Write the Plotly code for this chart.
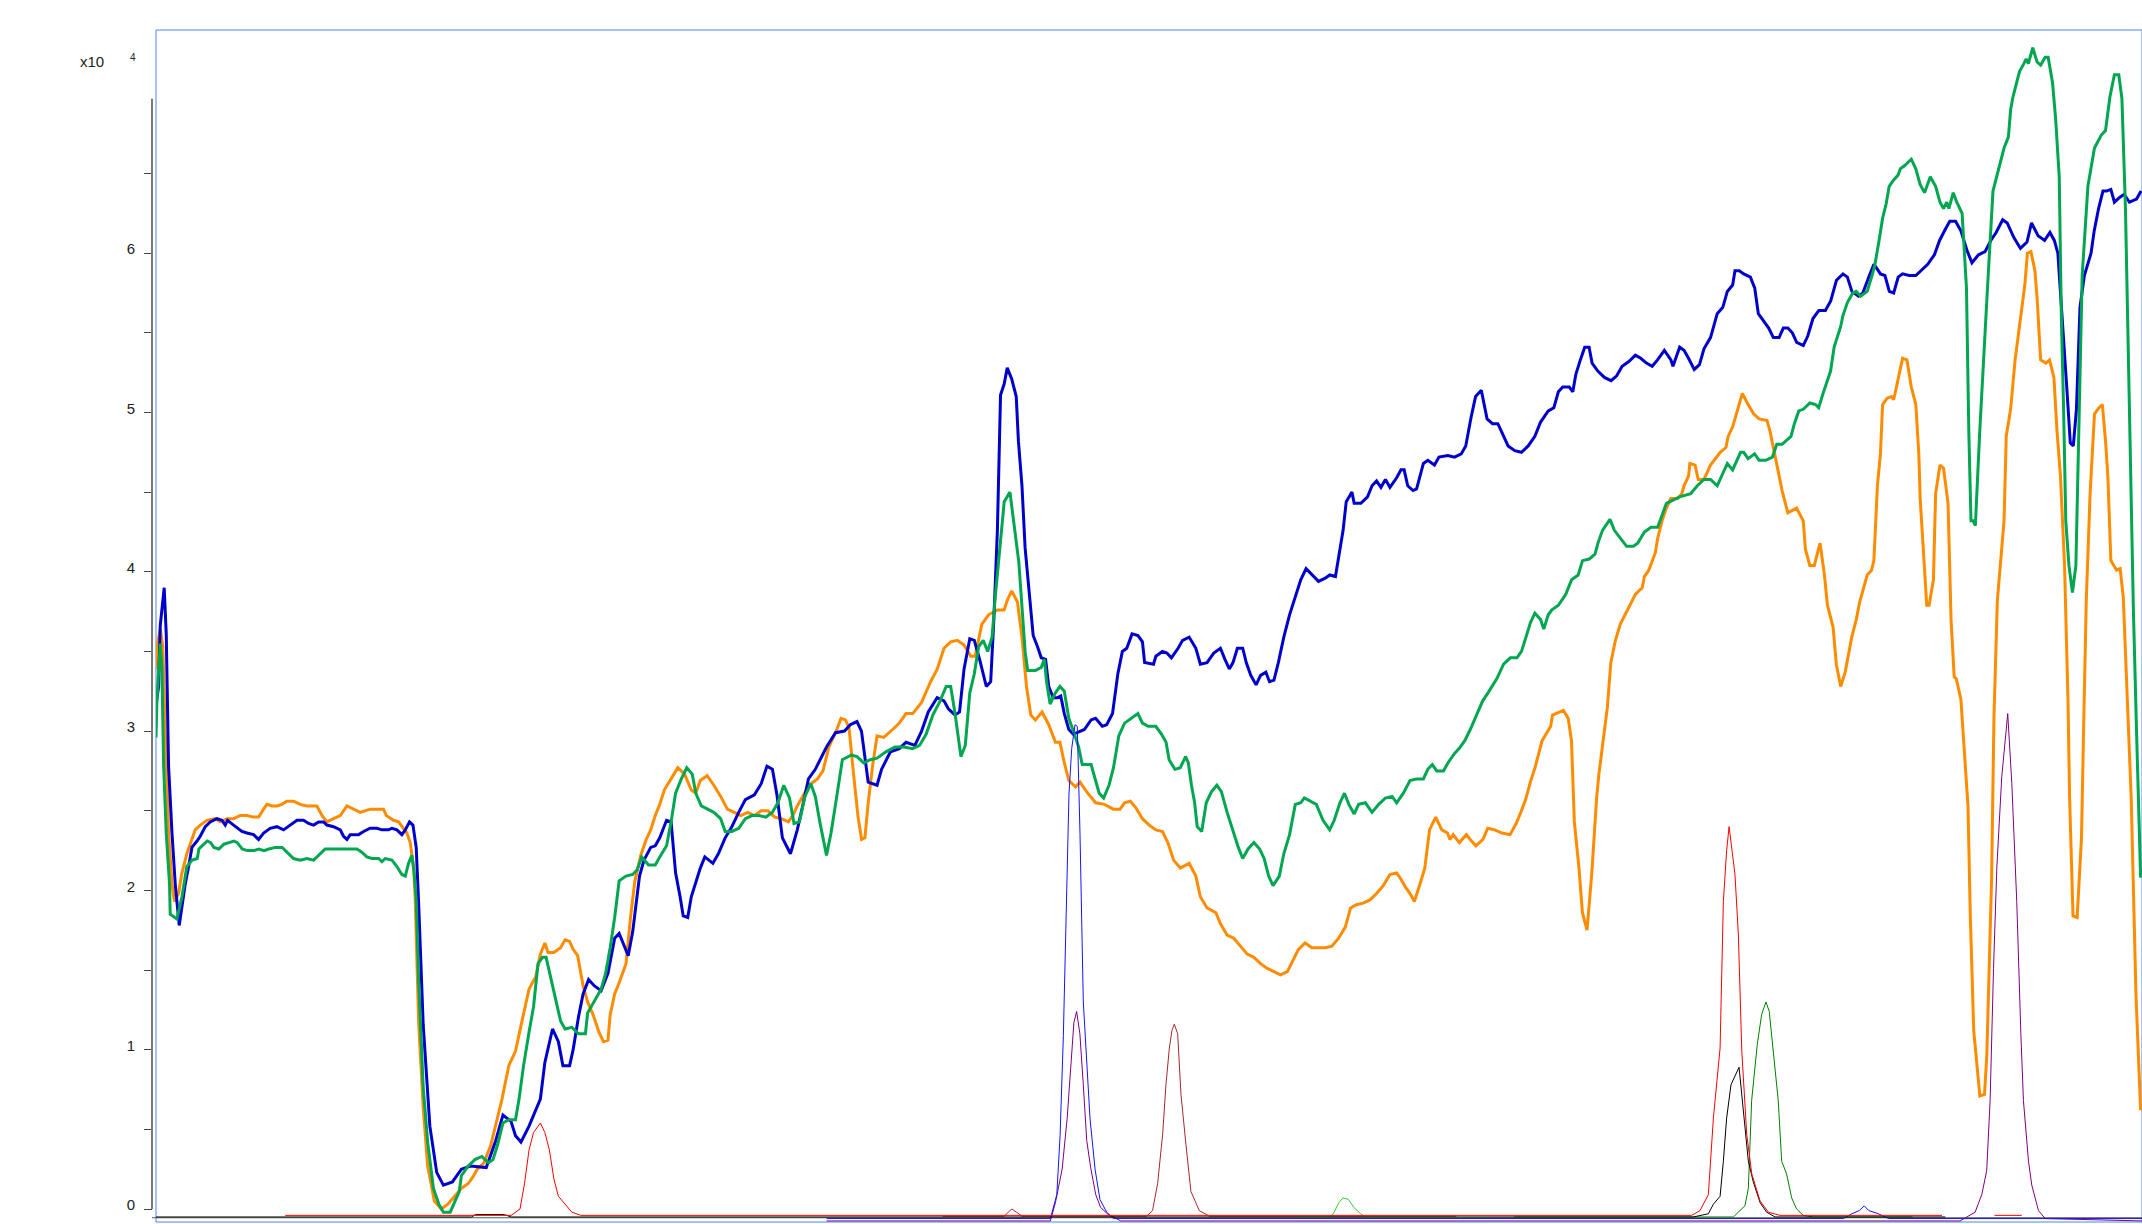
import plotly.graph_objects as go

# ---- data: (retention time [min], intensity [x10^4 counts]) ----
tic_blue = [(0,3.16),(0.038,3.28),(0.062,3.66),(0.12,3.90),(0.15,3.61),(0.184,2.78),(0.234,2.36),(0.282,2.04),(0.34,1.78),(0.428,2.04),(0.478,2.15),(0.526,2.27),(0.6,2.31),(0.648,2.34),(0.722,2.40),(0.794,2.43),(0.892,2.45),(0.966,2.44),(1.014,2.41),(1.048,2.44),(1.136,2.41),(1.258,2.37),(1.332,2.36),(1.428,2.35),(1.502,2.32),(1.576,2.36),(1.672,2.39),(1.77,2.40),(1.868,2.38),(1.94,2.40),(2.064,2.44),(2.16,2.44),(2.234,2.42),(2.308,2.41),(2.38,2.43),(2.454,2.43),(2.502,2.41),(2.6,2.40),(2.698,2.38),(2.746,2.34),(2.796,2.32),(2.844,2.35),(2.966,2.35),(3.04,2.37),(3.136,2.39),(3.234,2.39),(3.308,2.38),(3.406,2.38),(3.454,2.39),(3.528,2.38),(3.6,2.35),(3.65,2.38),(3.712,2.43),(3.762,2.41),(3.81,2.27),(3.844,1.94),(3.912,1.16),(4.01,0.52),(4.11,0.23),(4.208,0.15),(4.34,0.17),(4.472,0.25),(4.604,0.27),(4.836,0.26),(4.968,0.42),(5.08,0.59),(5.198,0.55),(5.264,0.46),(5.344,0.42),(5.462,0.52),(5.628,0.69),(5.694,0.92),(5.806,1.13),(5.892,1.05),(5.958,0.90),(6.056,0.90),(6.108,1.00),(6.188,1.21),(6.254,1.35),(6.334,1.44),(6.42,1.40),(6.518,1.37),(6.618,1.48),(6.716,1.70),(6.782,1.73),(6.914,1.59),(6.98,1.74),(7.08,2.09),(7.146,2.19),(7.244,2.27),(7.31,2.28),(7.376,2.33),(7.476,2.44),(7.542,2.43),(7.608,2.11),(7.674,1.96),(7.72,1.84),(7.786,1.83),(7.838,1.96),(7.97,2.14),(8.036,2.21),(8.154,2.17),(8.234,2.23),(8.334,2.33),(8.432,2.40),(8.532,2.49),(8.63,2.57),(8.762,2.60),(8.862,2.67),(8.946,2.78),(9.026,2.76),(9.092,2.60),(9.172,2.33),(9.29,2.23),(9.39,2.38),(9.474,2.54),(9.554,2.70),(9.654,2.76),(9.818,2.90),(9.95,2.99),(10.082,3.00),(10.166,3.04),(10.264,3.06),(10.33,3.00),(10.428,2.68),(10.558,2.66),(10.624,2.76),(10.754,2.87),(10.884,2.89),(10.982,2.93),(11.112,2.91),(11.21,3.00),(11.308,3.12),(11.438,3.21),(11.538,3.19),(11.602,3.14),(11.7,3.10),(11.766,3.12),(11.832,3.39),(11.916,3.58),(11.982,3.57),(12.06,3.45),(12.158,3.28),(12.222,3.31),(12.268,3.70),(12.32,4.26),(12.366,5.11),(12.42,5.18),(12.464,5.28),(12.53,5.21),(12.596,5.10),(12.628,4.82),(12.68,4.54),(12.726,4.15),(12.778,3.89),(12.844,3.60),(12.908,3.53),(12.962,3.46),(13.026,3.45),(13.072,3.28),(13.138,3.21),(13.202,3.21),(13.248,3.22),(13.3,3.11),(13.366,3.01),(13.432,2.98),(13.594,3.01),(13.692,3.07),(13.758,3.08),(13.856,3.03),(13.92,3.04),(14.006,3.11),(14.084,3.36),(14.15,3.50),(14.214,3.52),(14.292,3.61),(14.378,3.60),(14.444,3.56),(14.476,3.43),(14.606,3.42),(14.64,3.47),(14.736,3.50),(14.802,3.49),(14.868,3.46),(14.966,3.52),(15.032,3.57),(15.128,3.59),(15.226,3.52),(15.292,3.42),(15.39,3.43),(15.488,3.49),(15.586,3.52),(15.652,3.45),(15.716,3.39),(15.77,3.43),(15.834,3.52),(15.912,3.52),(15.964,3.43),(16.03,3.35),(16.108,3.29),(16.174,3.35),(16.252,3.37),(16.304,3.31),(16.37,3.32),(16.434,3.43),(16.514,3.59),(16.598,3.73),(16.682,3.84),(16.762,3.95),(16.84,4.02),(16.924,3.98),(17.022,3.94),(17.12,3.96),(17.186,3.98),(17.27,3.97),(17.316,4.10),(17.382,4.26),(17.428,4.44),(17.512,4.50),(17.544,4.43),(17.642,4.43),(17.74,4.47),(17.806,4.54),(17.872,4.57),(17.936,4.53),(18.002,4.58),(18.068,4.53),(18.166,4.59),(18.23,4.64),(18.276,4.64),(18.328,4.54),(18.406,4.51),(18.458,4.52),(18.558,4.68),(18.622,4.70),(18.72,4.67),(18.786,4.72),(18.916,4.73),(19.014,4.72),(19.112,4.74),(19.178,4.79),(19.256,4.97),(19.322,5.10),(19.406,5.14),(19.49,4.96),(19.57,4.93),(19.648,4.93),(19.712,4.87),(19.798,4.79),(19.896,4.76),(19.994,4.75),(20.092,4.79),(20.19,4.85),(20.274,4.94),(20.386,5.01),(20.468,5.03),(20.534,5.13),(20.598,5.16),(20.694,5.16),(20.746,5.13),(20.79,5.24),(20.856,5.33),(20.92,5.41),(20.984,5.41),(21.028,5.31),(21.112,5.26),(21.208,5.22),(21.306,5.20),(21.388,5.23),(21.468,5.29),(21.566,5.32),(21.662,5.36),(21.74,5.34),(21.824,5.31),(21.908,5.29),(21.986,5.33),(22.086,5.39),(22.182,5.33),(22.212,5.29),(22.31,5.41),(22.374,5.39),(22.44,5.34),(22.524,5.27),(22.6,5.30),(22.666,5.40),(22.762,5.47),(22.86,5.62),(22.942,5.66),(23.008,5.76),(23.086,5.80),(23.12,5.89),(23.184,5.89),(23.248,5.87),(23.346,5.85),(23.41,5.78),(23.462,5.62),(23.54,5.57),(23.614,5.53),(23.682,5.47),(23.766,5.47),(23.828,5.53),(23.894,5.53),(23.96,5.50),(24.024,5.44),(24.12,5.42),(24.186,5.48),(24.262,5.59),(24.348,5.64),(24.444,5.64),(24.522,5.70),(24.606,5.83),(24.702,5.87),(24.766,5.85),(24.832,5.76),(24.928,5.73),(24.992,5.75),(25.088,5.86),(25.154,5.93),(25.204,5.90),(25.25,5.87),(25.316,5.86),(25.38,5.76),(25.444,5.75),(25.51,5.85),(25.574,5.87),(25.672,5.86),(25.768,5.86),(25.866,5.90),(25.942,5.93),(26.04,5.99),(26.116,6.08),(26.2,6.15),(26.266,6.20),(26.35,6.20),(26.428,6.14),(26.524,6.01),(26.59,5.94),(26.686,5.99),(26.782,6.01),(26.866,6.08),(26.944,6.13),(27.04,6.21),(27.106,6.19),(27.202,6.10),(27.3,6.03),(27.396,6.07),(27.462,6.19),(27.558,6.11),(27.654,6.08),(27.732,6.13),(27.796,6.08),(27.848,6.00),(27.912,5.61),(27.978,5.16),(28.03,4.81),(28.074,4.79),(28.12,5.02),(28.172,5.66),(28.236,5.86),(28.334,6.00),(28.38,6.14),(28.444,6.28),(28.508,6.39),(28.56,6.39),(28.624,6.40),(28.676,6.32),(28.752,6.35),(28.818,6.37),(28.896,6.32),(29.0,6.34),(29.066,6.39)]

tic_orange = [(0,3.39),(0.024,3.55),(0.062,3.64),(0.1,3.53),(0.136,2.99),(0.184,2.36),(0.234,2.04),(0.27,1.93),(0.33,1.98),(0.38,2.11),(0.452,2.23),(0.526,2.32),(0.574,2.38),(0.648,2.41),(0.746,2.44),(0.868,2.45),(0.94,2.43),(1.04,2.45),(1.136,2.45),(1.234,2.47),(1.332,2.47),(1.428,2.46),(1.502,2.46),(1.576,2.51),(1.624,2.54),(1.698,2.53),(1.77,2.53),(1.844,2.54),(1.916,2.56),(2.014,2.56),(2.112,2.54),(2.21,2.53),(2.356,2.53),(2.43,2.47),(2.502,2.43),(2.6,2.45),(2.698,2.47),(2.796,2.53),(2.892,2.51),(2.99,2.49),(3.136,2.51),(3.332,2.51),(3.372,2.47),(3.478,2.44),(3.552,2.43),(3.626,2.39),(3.674,2.36),(3.722,2.30),(3.772,2.15),(3.796,1.94),(3.846,1.17),(3.912,0.64),(3.978,0.27),(4.076,0.05),(4.176,0.00),(4.274,0.03),(4.374,0.08),(4.472,0.13),(4.572,0.16),(4.638,0.20),(4.704,0.25),(4.802,0.29),(4.902,0.40),(5.0,0.58),(5.066,0.69),(5.166,0.90),(5.264,0.99),(5.364,1.19),(5.462,1.38),(5.562,1.46),(5.628,1.60),(5.694,1.67),(5.74,1.61),(5.826,1.61),(5.924,1.64),(5.99,1.69),(6.056,1.68),(6.108,1.63),(6.174,1.59),(6.254,1.40),(6.32,1.30),(6.4,1.22),(6.486,1.11),(6.552,1.05),(6.618,1.06),(6.65,1.22),(6.716,1.35),(6.782,1.42),(6.882,1.54),(6.948,1.83),(7.012,2.06),(7.098,2.22),(7.178,2.32),(7.244,2.38),(7.31,2.47),(7.376,2.54),(7.442,2.63),(7.542,2.70),(7.64,2.77),(7.74,2.73),(7.838,2.63),(7.904,2.61),(7.97,2.69),(8.07,2.72),(8.168,2.66),(8.268,2.59),(8.366,2.51),(8.466,2.49),(8.564,2.47),(8.664,2.49),(8.762,2.47),(8.862,2.50),(8.96,2.50),(9.06,2.46),(9.158,2.45),(9.258,2.43),(9.324,2.47),(9.39,2.53),(9.456,2.58),(9.522,2.63),(9.588,2.67),(9.686,2.70),(9.766,2.75),(9.852,2.90),(9.95,2.99),(10.03,3.08),(10.096,3.07),(10.148,3.02),(10.214,2.73),(10.28,2.46),(10.332,2.32),(10.38,2.33),(10.426,2.54),(10.492,2.78),(10.558,2.97),(10.656,2.96),(10.786,3.01),(10.884,3.05),(10.982,3.11),(11.08,3.11),(11.21,3.18),(11.342,3.31),(11.44,3.39),(11.538,3.52),(11.636,3.56),(11.734,3.57),(11.832,3.54),(11.93,3.47),(11.994,3.47),(12.092,3.67),(12.19,3.73),(12.32,3.76),(12.418,3.76),(12.464,3.82),(12.53,3.88),(12.614,3.81),(12.68,3.59),(12.746,3.28),(12.81,3.10),(12.876,3.07),(12.974,3.12),(13.072,3.04),(13.17,2.93),(13.236,2.93),(13.3,2.80),(13.366,2.69),(13.464,2.65),(13.53,2.68),(13.626,2.62),(13.758,2.55),(13.888,2.54),(14.018,2.51),(14.116,2.51),(14.182,2.55),(14.266,2.56),(14.346,2.52),(14.444,2.45),(14.542,2.41),(14.64,2.38),(14.736,2.37),(14.816,2.30),(14.9,2.19),(14.998,2.14),(15.128,2.17),(15.226,2.09),(15.292,1.96),(15.39,1.89),(15.52,1.86),(15.586,1.79),(15.684,1.72),(15.782,1.70),(15.88,1.65),(15.978,1.60),(16.076,1.58),(16.174,1.54),(16.272,1.51),(16.37,1.49),(16.468,1.47),(16.566,1.49),(16.664,1.58),(16.728,1.63),(16.826,1.67),(16.924,1.64),(17.12,1.64),(17.218,1.65),(17.316,1.70),(17.414,1.77),(17.492,1.89),(17.578,1.91),(17.676,1.92),(17.774,1.94),(17.872,1.98),(17.97,2.03),(18.068,2.10),(18.166,2.11),(18.23,2.07),(18.296,2.02),(18.362,1.98),(18.426,1.93),(18.508,2.04),(18.578,2.14),(18.648,2.38),(18.738,2.46),(18.828,2.38),(18.91,2.36),(18.946,2.32),(18.994,2.35),(19.084,2.30),(19.188,2.35),(19.244,2.32),(19.326,2.28),(19.43,2.32),(19.5,2.39),(19.604,2.38),(19.708,2.36),(19.826,2.35),(19.916,2.42),(19.984,2.49),(20.054,2.57),(20.124,2.68),(20.192,2.77),(20.296,2.94),(20.422,3.03),(20.448,3.10),(20.608,3.13),(20.678,3.08),(20.726,2.94),(20.768,2.43),(20.836,2.14),(20.886,1.86),(20.954,1.75),(21.024,2.11),(21.094,2.58),(21.128,2.73),(21.198,2.98),(21.252,3.15),(21.302,3.43),(21.37,3.57),(21.44,3.67),(21.544,3.76),(21.612,3.82),(21.664,3.86),(21.762,3.90),(21.794,3.97),(21.858,4.01),(21.954,4.12),(21.988,4.21),(22.052,4.32),(22.116,4.40),(22.18,4.46),(22.278,4.46),(22.342,4.49),(22.374,4.54),(22.44,4.60),(22.46,4.68),(22.536,4.67),(22.582,4.58),(22.666,4.58),(22.762,4.67),(22.828,4.71),(22.904,4.75),(22.988,4.78),(23.02,4.85),(23.086,4.91),(23.15,5.01),(23.228,5.12),(23.312,5.05),(23.396,4.99),(23.474,4.96),(23.59,4.95),(23.634,4.88),(23.7,4.74),(23.81,4.51),(23.894,4.37),(24.022,4.40),(24.12,4.32),(24.152,4.14),(24.216,4.04),(24.282,4.04),(24.366,4.18),(24.43,3.98),(24.474,3.79),(24.558,3.65),(24.604,3.42),(24.668,3.28),(24.734,3.37),(24.83,3.59),(24.896,3.70),(24.946,3.81),(25.056,3.98),(25.12,4.01),(25.154,4.07),(25.206,4.54),(25.25,4.74),(25.282,5.05),(25.348,5.09),(25.412,5.10),(25.444,5.08),(25.508,5.22),(25.574,5.34),(25.638,5.33),(25.702,5.16),(25.768,5.05),(25.812,4.74),(25.832,4.46),(25.878,4.12),(25.928,3.79),(25.962,3.79),(26.026,3.95),(26.058,4.49),(26.122,4.67),(26.174,4.65),(26.24,4.43),(26.284,3.70),(26.33,3.34),(26.36,3.33),(26.428,3.20),(26.532,2.53),(26.566,1.84),(26.616,1.12),(26.706,0.71),(26.774,0.72),(26.808,0.97),(26.878,2.08),(26.912,3.08),(26.962,3.82),(27.06,4.32),(27.092,4.85),(27.156,5.02),(27.222,5.33),(27.274,5.50),(27.318,5.64),(27.364,5.80),(27.402,6.00),(27.454,6.01),(27.512,5.89),(27.544,5.72),(27.596,5.33),(27.674,5.31),(27.726,5.33),(27.79,5.22),(27.836,4.88),(27.886,4.60),(27.946,4.04),(27.996,3.20),(28.02,2.58),(28.07,1.84),(28.13,1.83),(28.194,2.33),(28.228,3.08),(28.264,3.82),(28.32,4.49),(28.384,4.99),(28.45,5.03),(28.5,5.05),(28.546,4.82),(28.58,4.60),(28.624,4.07),(28.708,4.01),(28.76,4.02),(28.806,3.84),(28.922,2.58),(28.992,1.34),(29.06,0.62)]

tic_green = [(0,2.96),(0.014,3.20),(0.062,3.55),(0.086,3.40),(0.112,2.78),(0.15,2.36),(0.198,2.04),(0.208,1.85),(0.306,1.82),(0.38,1.96),(0.452,2.15),(0.53,2.19),(0.604,2.20),(0.628,2.26),(0.702,2.29),(0.75,2.31),(0.8,2.30),(0.848,2.27),(0.92,2.26),(0.994,2.29),(1.068,2.30),(1.142,2.31),(1.19,2.30),(1.262,2.26),(1.336,2.25),(1.434,2.25),(1.506,2.26),(1.58,2.25),(1.652,2.26),(1.75,2.27),(1.848,2.27),(1.92,2.24),(2.014,2.20),(2.112,2.19),(2.21,2.20),(2.308,2.19),(2.404,2.23),(2.478,2.26),(2.6,2.26),(2.746,2.26),(2.942,2.26),(3.014,2.24),(3.088,2.21),(3.162,2.20),(3.26,2.20),(3.308,2.18),(3.356,2.20),(3.454,2.19),(3.528,2.15),(3.6,2.10),(3.65,2.09),(3.698,2.17),(3.746,2.22),(3.78,2.11),(3.81,1.94),(3.846,1.43),(3.912,0.77),(3.978,0.42),(4.062,0.13),(4.142,0.03),(4.208,-0.02),(4.308,-0.02),(4.374,0.04),(4.44,0.11),(4.472,0.21),(4.572,0.27),(4.67,0.31),(4.77,0.33),(4.868,0.29),(4.934,0.31),(5.0,0.40),(5.08,0.54),(5.166,0.56),(5.264,0.56),(5.316,0.69),(5.382,0.90),(5.462,1.11),(5.528,1.27),(5.594,1.54),(5.66,1.58),(5.712,1.58),(5.778,1.46),(5.858,1.30),(5.924,1.18),(5.99,1.13),(6.09,1.14),(6.188,1.10),(6.288,1.10),(6.32,1.23),(6.42,1.31),(6.518,1.38),(6.584,1.48),(6.65,1.64),(6.716,1.83),(6.782,2.06),(6.882,2.09),(6.98,2.10),(7.046,2.13),(7.112,2.21),(7.212,2.16),(7.31,2.16),(7.376,2.21),(7.476,2.28),(7.542,2.43),(7.608,2.61),(7.692,2.70),(7.772,2.77),(7.852,2.73),(7.904,2.61),(7.984,2.53),(8.07,2.51),(8.168,2.49),(8.268,2.45),(8.334,2.37),(8.432,2.37),(8.532,2.39),(8.63,2.45),(8.73,2.47),(8.828,2.47),(8.928,2.46),(9.026,2.49),(9.106,2.55),(9.192,2.66),(9.276,2.58),(9.342,2.42),(9.422,2.43),(9.502,2.59),(9.588,2.67),(9.654,2.59),(9.72,2.43),(9.818,2.22),(9.884,2.36),(9.95,2.54),(10.05,2.82),(10.182,2.85),(10.264,2.84),(10.362,2.80),(10.46,2.82),(10.558,2.83),(10.688,2.87),(10.82,2.90),(10.95,2.90),(11.08,2.89),(11.18,2.91),(11.276,2.98),(11.374,3.10),(11.472,3.18),(11.57,3.28),(11.636,3.28),(11.7,3.11),(11.786,2.84),(11.85,2.91),(11.916,3.24),(11.982,3.36),(12.046,3.53),(12.112,3.57),(12.178,3.50),(12.242,3.59),(12.288,3.84),(12.354,4.12),(12.42,4.44),(12.504,4.50),(12.57,4.29),(12.634,4.06),(12.68,3.78),(12.726,3.50),(12.764,3.38),(12.876,3.38),(12.962,3.40),(13.008,3.45),(13.04,3.31),(13.092,3.17),(13.17,3.24),(13.236,3.28),(13.3,3.25),(13.366,3.08),(13.432,3.00),(13.51,2.90),(13.562,2.79),(13.692,2.79),(13.758,2.69),(13.81,2.61),(13.876,2.58),(13.954,2.66),(14.02,2.77),(14.098,2.97),(14.182,3.05),(14.28,3.08),(14.378,3.11),(14.444,3.05),(14.528,3.03),(14.64,3.03),(14.724,2.98),(14.79,2.93),(14.834,2.82),(14.92,2.76),(14.998,2.77),(15.076,2.84),(15.116,2.80),(15.162,2.66),(15.208,2.55),(15.246,2.40),(15.312,2.37),(15.378,2.55),(15.456,2.62),(15.534,2.66),(15.6,2.62),(15.684,2.49),(15.768,2.37),(15.848,2.27),(15.912,2.20),(15.99,2.26),(16.076,2.30),(16.16,2.26),(16.226,2.20),(16.292,2.09),(16.356,2.03),(16.448,2.09),(16.514,2.23),(16.598,2.35),(16.682,2.54),(16.762,2.55),(16.814,2.58),(16.892,2.56),(16.99,2.54),(17.088,2.44),(17.186,2.38),(17.252,2.44),(17.336,2.55),(17.402,2.61),(17.466,2.54),(17.544,2.48),(17.61,2.54),(17.708,2.55),(17.806,2.49),(17.904,2.54),(18.002,2.58),(18.1,2.59),(18.166,2.55),(18.264,2.61),(18.362,2.69),(18.46,2.70),(18.558,2.70),(18.622,2.76),(18.688,2.79),(18.754,2.75),(18.852,2.75),(18.916,2.80),(19.014,2.86),(19.08,2.89),(19.164,2.94),(19.244,3.01),(19.34,3.11),(19.426,3.19),(19.504,3.24),(19.57,3.29),(19.634,3.33),(19.732,3.42),(19.83,3.46),(19.928,3.46),(19.994,3.50),(20.06,3.59),(20.124,3.68),(20.19,3.74),(20.274,3.70),(20.32,3.64),(20.386,3.73),(20.436,3.76),(20.534,3.79),(20.598,3.83),(20.644,3.86),(20.728,3.95),(20.824,3.98),(20.888,4.07),(20.986,4.08),(21.07,4.11),(21.114,4.18),(21.18,4.26),(21.29,4.33),(21.354,4.26),(21.438,4.21),(21.534,4.16),(21.632,4.16),(21.696,4.18),(21.794,4.25),(21.89,4.28),(21.988,4.28),(22.052,4.35),(22.116,4.43),(22.214,4.45),(22.31,4.47),(22.472,4.49),(22.568,4.54),(22.666,4.58),(22.762,4.58),(22.86,4.54),(22.924,4.60),(23.008,4.68),(23.086,4.64),(23.15,4.70),(23.202,4.75),(23.248,4.75),(23.312,4.71),(23.408,4.74),(23.474,4.70),(23.57,4.70),(23.668,4.72),(23.732,4.80),(23.81,4.80),(23.862,4.82),(23.94,4.85),(23.99,4.93),(24.054,5.01),(24.12,5.02),(24.216,5.06),(24.3,5.05),(24.346,5.03),(24.41,5.12),(24.474,5.20),(24.52,5.26),(24.572,5.41),(24.668,5.54),(24.702,5.61),(24.766,5.69),(24.844,5.75),(24.896,5.76),(24.96,5.73),(25.056,5.76),(25.12,5.85),(25.166,5.92),(25.23,6.08),(25.282,6.22),(25.334,6.31),(25.378,6.42),(25.444,6.46),(25.508,6.49),(25.542,6.53),(25.606,6.55),(25.702,6.59),(25.768,6.53),(25.832,6.43),(25.896,6.38),(25.98,6.48),(26.058,6.42),(26.122,6.32),(26.174,6.28),(26.22,6.32),(26.252,6.28),(26.316,6.38),(26.368,6.32),(26.446,6.25),(26.51,5.78),(26.544,4.88),(26.576,4.32),(26.608,4.32),(26.64,4.29),(26.704,4.88),(26.77,5.44),(26.82,5.80),(26.898,6.39),(26.996,6.56),(27.06,6.66),(27.124,6.73),(27.156,6.90),(27.19,6.98),(27.254,7.09),(27.286,7.14),(27.35,7.19),(27.384,7.22),(27.416,7.19),(27.48,7.29),(27.544,7.20),(27.596,7.18),(27.662,7.23),(27.706,7.23),(27.77,7.07),(27.816,6.84),(27.868,6.48),(27.9,5.58),(27.932,5.02),(27.964,4.32),(28.01,4.04),(28.062,3.87),(28.112,4.04),(28.158,4.88),(28.204,5.86),(28.288,6.42),(28.384,6.66),(28.482,6.74),(28.546,6.77),(28.61,6.98),(28.676,7.12),(28.74,7.12),(28.786,6.97),(28.838,6.28),(28.902,4.88),(28.954,3.76),(29.0,3.00),(29.06,2.08)]

# extracted-ion traces (thin); None = gap in trace
eic_red = [(1.892,-0.04),(5.2,-0.04),(5.33,0.00),(5.396,0.16),(5.462,0.37),(5.528,0.48),(5.628,0.54),(5.694,0.48),(5.76,0.37),(5.826,0.19),(5.892,0.08),(5.99,0.03),(6.09,-0.02),(6.222,-0.04),(22.486,-0.04),(22.608,-0.01),(22.73,0.09),(22.804,0.57),(22.902,1.01),(22.95,1.93),(22.998,2.25),(23.034,2.40),(23.12,2.10),(23.17,1.72),(23.22,0.99),(23.292,0.47),(23.366,0.22),(23.488,0.05),(23.61,-0.02),(23.78,-0.04),(26.152,-0.04),(None,None),(26.92,-0.04),(27.32,-0.04)]
eic_black = [(0,-0.05),(4.62,-0.05),(4.68,-0.035),(5.1,-0.035),(5.2,-0.05),(22.51,-0.05),(22.73,-0.03),(22.804,0.03),(22.902,0.08),(22.95,0.30),(22.998,0.57),(23.062,0.78),(23.18,0.89),(23.242,0.61),(23.316,0.30),(23.388,0.17),(23.488,0.04),(23.584,-0.02),(23.708,-0.05),(26.2,-0.05)]
eic_blue = [(9.82,-0.06),(13.096,-0.06),(13.19,0.09),(13.238,0.46),(13.286,1.09),(13.334,1.93),(13.368,2.60),(13.408,2.89),(13.456,3.04),(13.49,3.03),(13.53,2.35),(13.578,1.30),(13.628,0.92),(13.676,0.57),(13.75,0.25),(13.822,0.06),(13.92,-0.02),(14.018,-0.06),(24.71,-0.06),(24.83,-0.03),(24.94,-0.01),(25.012,0.02),(25.08,-0.01),(25.22,-0.03),(25.37,-0.06),(29.08,-0.06)]
eic_purple = [(9.82,-0.075),(13.096,-0.075),(13.17,0.04),(13.268,0.25),(13.342,0.57),(13.39,0.88),(13.44,1.17),(13.48,1.24),(13.528,1.10),(13.578,0.78),(13.628,0.43),(13.686,0.26),(13.76,0.09),(13.832,0.01),(13.93,-0.03),(14.126,-0.075),(26.416,-0.075),(26.636,-0.02),(26.734,0.09),(26.806,0.24),(26.856,0.68),(26.906,1.51),(26.954,2.14),(27.026,2.71),(27.076,2.94),(27.114,3.11),(27.174,2.67),(27.246,1.93),(27.306,1.10),(27.344,0.68),(27.418,0.30),(27.466,0.15),(27.564,-0.01),(27.662,-0.06),(29.08,-0.075)]
eic_brown = [(11.52,-0.045),(12.42,-0.045),(12.48,-0.02),(12.532,0.00),(12.6,-0.02),(12.68,-0.045),(14.508,-0.045),(14.592,-0.01),(14.666,0.16),(14.74,0.47),(14.788,0.78),(14.838,1.01),(14.876,1.12),(14.91,1.16),(14.96,1.10),(15.008,0.72),(15.082,0.40),(15.154,0.11),(15.276,-0.01),(15.424,-0.045),(19.04,-0.045)]
eic_darkgreen = [(19.88,-0.05),(23.096,-0.05),(23.266,0.02),(23.316,0.13),(23.364,0.68),(23.446,1.03),(23.51,1.22),(23.574,1.30),(23.622,1.24),(23.706,0.89),(23.754,0.68),(23.804,0.30),(23.876,0.22),(23.95,0.07),(24.022,0.00),(24.12,-0.04),(24.268,-0.05),(25.72,-0.05)]
eic_lightgreen = [(16.72,-0.055),(17.16,-0.055),(17.24,-0.03),(17.32,0.04),(17.38,0.07),(17.46,0.06),(17.54,0.01),(17.64,-0.03),(17.72,-0.055),(19.5,-0.055)]

# ---- figure ----
W, H = 2142, 1224
L, T, B = 152, 30, 2
plot_w = W - L
x_start = 4 / plot_w
Y_MIN, Y_MAX = -0.0816, 7.401
X_MAX = 29.08
FONT = "Liberation Sans, Arial, sans-serif"

fig = go.Figure()

def add(pairs, color, width, name):
    xs = [p[0] for p in pairs]
    ys = [p[1] for p in pairs]
    fig.add_trace(go.Scatter(x=xs, y=ys, mode="lines", name=name,
                             line=dict(color=color, width=width),
                             connectgaps=False, hoverinfo="skip"))

add(tic_orange, "#FF8C00", 3, "orange")
add(tic_blue, "#0000CC", 3, "blue")
add(tic_green, "#00A650", 3, "green")
add(eic_brown, "#A52A2A", 1, "brown")
add(eic_lightgreen, "#33CC33", 1, "lightgreen")
add(eic_darkgreen, "#008000", 1, "darkgreen")
add(eic_purple, "#800080", 1, "purple")
add(eic_blue, "#1414FF", 1, "blue-eic")
add(eic_black, "#000000", 1, "black")
add(eic_red, "#FF0000", 1, "red")

tick_vals = [i * 0.5 for i in range(14)]
tick_text = [str(int(v)) if v == int(v) else "" for v in tick_vals]

fig.update_layout(
    width=W, height=H,
    margin=dict(l=L, r=0, t=T, b=B, pad=0),
    paper_bgcolor="white", plot_bgcolor="white",
    showlegend=False,
    xaxis=dict(domain=[x_start, 1], range=[0, X_MAX], showgrid=False,
               zeroline=False, showticklabels=False, ticks="", showline=False),
    yaxis=dict(range=[Y_MIN, Y_MAX], anchor="free", position=0,
               showgrid=False, zeroline=False, showline=False,
               tickmode="array", tickvals=tick_vals, ticktext=tick_text,
               ticks="outside", ticklen=8, tickwidth=1, tickcolor="#444444",
               ticklabelstandoff=6, ticklabelshift=-4, ticklabeloverflow="allow",
               tickfont=dict(family=FONT, size=15, color="#222222")),
    shapes=[
        dict(type="rect", xref="x domain", yref="y domain", x0=0, x1=1, y0=0, y1=1,
             line=dict(color="#4A86E8", width=1), fillcolor="rgba(0,0,0,0)", layer="below"),
        dict(type="line", xref="paper", yref="y", x0=0, x1=0, y0=0, y1=6.97,
             line=dict(color="#777777", width=2)),
        dict(type="line", xref="paper", yref="y", x0=0, x1=1, y0=-0.055, y1=-0.055,
             line=dict(color="#555555", width=1), layer="below"),
    ],
    annotations=[
        dict(text="x10", xref="paper", yref="paper", x=-60.5 / plot_w,
             y=(H - B - 62) / (H - T - B), xanchor="center", yanchor="middle",
             showarrow=False, font=dict(family=FONT, size=15, color="#222222")),
        dict(text="4", xref="paper", yref="paper", x=-19 / plot_w,
             y=(H - B - 57.5) / (H - T - B), xanchor="center", yanchor="middle",
             showarrow=False, font=dict(family=FONT, size=10, color="#222222")),
    ],
)

fig.write_html("out.html")
